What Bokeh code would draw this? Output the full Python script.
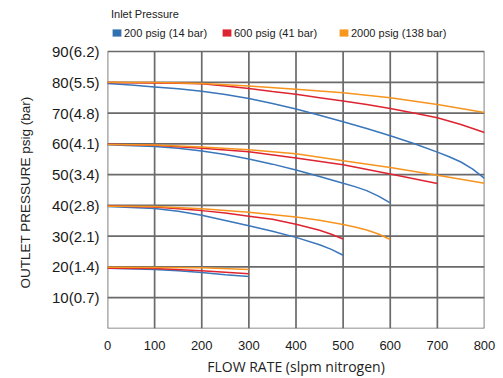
from bokeh.plotting import figure
from bokeh.models import Range1d, FixedTicker, Legend, LegendItem, Title
from bokeh.embed import file_html
from bokeh.resources import INLINE

# ---- data ----
x_ticks = [0, 100, 200, 300, 400, 500, 600, 700, 800]
y_ticks = [10, 20, 30, 40, 50, 60, 70, 80, 90]
y_tick_labels = ["10(0.7)", "20(1.4)", "30(2.1)", "40(2.8)", "50(3.4)",
                 "60(4.1)", "70(4.8)", "80(5.5)", "90(6.2)"]

series_names = ["200 psig (14 bar)", "600 psig (41 bar)", "2000 psig (138 bar)"]
series_colors = ["#3a76ba", "#de2430", "#f7941e"]
legend_colors = ["#3270ae", "#dc2530", "#f8961e"]

# 200 psig inlet (blue)
blue80_x = [0, 50, 100, 150, 200, 250, 300, 350, 400, 450, 500, 550, 600, 650, 700, 725, 750, 775, 800]
blue80_y = [79.6, 79.1, 78.5, 77.9, 77.1, 76.0, 74.7, 73.1, 71.3, 69.3, 67.2, 65.0, 62.6, 60.1, 57.3, 55.8, 54.1, 51.8, 48.8]
blue60_x = [0, 100, 150, 200, 250, 300, 350, 400, 450, 500, 525, 550, 575, 600]
blue60_y = [59.7, 59.1, 58.6, 57.7, 56.5, 55.1, 53.4, 51.5, 49.4, 47.2, 46.1, 44.8, 43.0, 40.8]
blue40_x = [0, 100, 150, 200, 250, 300, 350, 400, 450, 475, 500]
blue40_y = [39.6, 39.0, 38.1, 36.8, 35.1, 33.4, 31.6, 29.6, 27.2, 25.7, 23.8]
blue20_x = [0, 100, 150, 200, 250, 300]
blue20_y = [19.6, 19.2, 18.8, 18.2, 17.5, 16.9]

# 600 psig inlet (red)
red80_x = [0, 100, 150, 200, 250, 300, 350, 400, 450, 500, 550, 600, 650, 700, 750, 800]
red80_y = [79.9, 79.8, 79.7, 79.5, 78.8, 78.0, 77.0, 76.1, 75.0, 73.9, 72.8, 71.5, 70.0, 68.5, 66.3, 63.7]
red60_x = [0, 100, 200, 300, 400, 500, 600, 700]
red60_y = [59.9, 59.5, 58.6, 57.4, 55.4, 53.2, 50.2, 47.1]
red40_x = [0, 100, 200, 250, 300, 350, 400, 450, 475, 500]
red40_y = [39.8, 39.5, 38.3, 37.5, 36.5, 35.5, 33.9, 31.9, 30.6, 29.1]
red20_x = [0, 100, 200, 300]
red20_y = [19.6, 19.5, 18.8, 17.8]

# 2000 psig inlet (orange)
orange80_x = [0, 100, 200, 300, 400, 500, 600, 700, 800]
orange80_y = [80.0, 79.9, 79.6, 78.8, 77.7, 76.6, 75.0, 72.8, 70.2]
orange60_x = [0, 100, 200, 300, 400, 500, 600, 700, 800]
orange60_y = [59.8, 59.6, 59.0, 58.1, 56.8, 54.5, 52.3, 49.8, 47.2]
orange40_x = [0, 100, 200, 300, 400, 450, 500, 525, 550, 575, 600]
orange40_y = [39.7, 39.6, 38.9, 37.8, 36.2, 35.2, 33.8, 33.0, 32.0, 30.7, 28.9]
orange20_x = [0, 100, 200, 300]
orange20_y = [19.9, 19.8, 19.7, 19.2]

curves = [
    [(blue80_x, blue80_y), (blue60_x, blue60_y), (blue40_x, blue40_y), (blue20_x, blue20_y)],
    [(red80_x, red80_y), (red60_x, red60_y), (red40_x, red40_y), (red20_x, red20_y)],
    [(orange80_x, orange80_y), (orange60_x, orange60_y), (orange40_x, orange40_y), (orange20_x, orange20_y)],
]

# ---- layout geometry (pixels) ----
W, H = 503, 378
left, right, bottom = 107, 19, 50
grid_top_px = 51                      # where the top gridline (90) sits
frame_h = H - bottom                  # frame reaches the top edge; legend lives inside it
y_min, y_max = 0, y_ticks[-1]
y_top = y_max * frame_h / (frame_h - grid_top_px)

p = figure(width=W, height=H, output_backend="svg", toolbar_location=None,
           x_range=Range1d(x_ticks[0], x_ticks[-1]), y_range=Range1d(y_min, y_top),
           min_border_left=left, min_border_right=right, min_border_top=0,
           min_border_bottom=bottom)
p.background_fill_color = "white"
p.border_fill_color = "white"
p.outline_line_color = None
p.grid.visible = False

# grid drawn only over the 0..90 / 0..800 area
grid_color = "#6a6a6a"
grid_w = 1.7
xs_all = x_ticks
ys_all = [y_min] + y_ticks
p.segment(x0=xs_all, y0=[y_min] * len(xs_all), x1=xs_all, y1=[y_max] * len(xs_all),
          line_color=grid_color, line_width=grid_w)
p.segment(x0=[x_ticks[0]] * len(ys_all), y0=ys_all, x1=[x_ticks[-1]] * len(ys_all), y1=ys_all,
          line_color=grid_color, line_width=grid_w)

# x axis
xa = p.xaxis[0]
xa.ticker = FixedTicker(ticks=x_ticks)
xa.major_label_text_font = "Liberation Sans"
xa.major_label_text_font_size = "13px"
xa.major_label_text_color = "#1a1a1a"
xa.major_label_standoff = 12
xa.axis_label = "FLOW RATE (slpm nitrogen)"
xa.axis_label_text_font = "Open Sans"
xa.axis_label_text_font_size = "14px"
xa.axis_label_text_font_style = "normal"
xa.axis_label_text_color = "#222222"
xa.axis_label_standoff = 4

# y axis (its title is a side Title so it can be centred on the 0..90 span)
ya = p.yaxis[0]
ya.ticker = FixedTicker(ticks=y_ticks)
ya.major_label_overrides = {t: lbl for t, lbl in zip(y_ticks, y_tick_labels)}
ya.major_label_text_font = "Liberation Sans"
ya.major_label_text_font_size = "15px"
ya.major_label_text_color = "#1a1a1a"
ya.major_label_standoff = 8

for ax in (xa, ya):
    ax.major_tick_out = 0
    ax.major_tick_in = 0
    ax.minor_tick_out = 0
    ax.minor_tick_in = 0
    ax.axis_line_color = None

ytitle = Title(text="OUTLET PRESSURE psig (bar)", align="left", offset=40,
               vertical_align="middle", standoff=30,
               text_font="Liberation Sans", text_font_size="13.5px",
               text_font_style="normal", text_color="#222222")
p.add_layout(ytitle, "left")

# curves
for color, group in zip(series_colors, curves):
    for xs, ys in group:
        p.line(xs, ys, line_color=color, line_width=1.5)

# legend swatches: zero-area proxies used only for the legend
swatches = [p.quad(left=xs[:1], right=xs[:1], top=ys[:1], bottom=ys[:1],
                   fill_color=c, line_color=None)
            for c, (xs, ys) in zip(legend_colors, [g[0] for g in curves])]

# one legend per entry so each sits where the reference puts it
legend_x = [4, 114, 231]
for i, (name, sw) in enumerate(zip(series_names, swatches)):
    leg = Legend(items=[LegendItem(label=name, renderers=[sw])],
                 location=(legend_x[i], frame_h - 39), orientation="horizontal",
                 padding=0, margin=0, spacing=0,
                 glyph_width=11, glyph_height=9, label_standoff=2, label_height=13,
                 label_text_font="Liberation Sans", label_text_font_size="11px",
                 label_text_color="#222222",
                 background_fill_alpha=0, border_line_alpha=0)
    if i == 0:
        leg.title = "Inlet Pressure"
        leg.title_text_font = "Liberation Sans"
        leg.title_text_font_size = "11px"
        leg.title_text_font_style = "normal"
        leg.title_text_color = "#222222"
        leg.title_standoff = 6
    p.add_layout(leg)

open("out.html", "w").write(file_html(p, INLINE))
